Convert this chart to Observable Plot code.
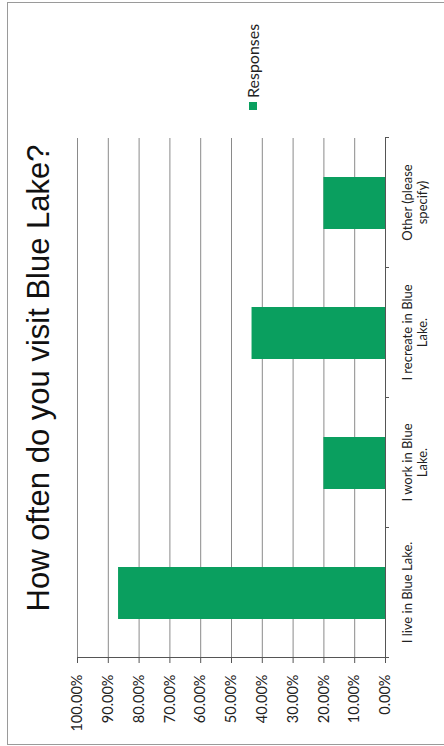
<!DOCTYPE html>
<html><head><meta charset="utf-8">
<script src="https://cdn.jsdelivr.net/npm/d3@7"></script>
<script src="https://cdn.jsdelivr.net/npm/@observablehq/plot@0.6"></script>
<style>
html,body{margin:0;padding:0;background:#fff;width:444px;height:746px;overflow:hidden;}
#page{position:absolute;left:0;top:746px;width:746px;height:444px;transform-origin:0 0;transform:rotate(-90deg);background:#fff;}
#frame{position:absolute;left:1px;top:7px;width:743px;height:440px;border:1px solid #9a9a9a;border-bottom:none;box-sizing:border-box;}
#title{position:absolute;left:0;top:23px;width:736px;text-align:center;font-family:"Liberation Sans",Arial,sans-serif;font-size:31px;line-height:31px;color:#111;white-space:nowrap;}
#chart{position:absolute;left:0;top:0;}
#legend{position:absolute;left:636px;top:243px;display:flex;align-items:center;font-family:Lato,sans-serif;font-size:16px;line-height:20px;color:#222;}
#legend .sw{width:8px;height:8px;background:#0a9f5f;margin-right:4px;}
</style></head>
<body><div id="page"><div id="frame"></div><div id="chart"></div><div id="title"></div><div id="legend"></div></div>
<script>
const chartTitle = "How often do you visit Blue Lake?";
const seriesName = "Responses";
const categories = ["I live in Blue Lake.", "I work in Blue\nLake.", "I recreate in Blue\nLake.", "Other (please\nspecify)"];
const values = [0.8667, 0.2000, 0.4333, 0.2000];
const valueTicks = [0, 0.1, 0.2, 0.3, 0.4, 0.5, 0.6, 0.7, 0.8, 0.9, 1.0];

const green = "#0a9f5f";
const data = categories.map((c, i) => ({i, category: c, value: values[i]}));
const bounds = d3.range(categories.length + 1);

const chart = Plot.plot({
  width: 746, height: 444,
  marginLeft: 88, marginRight: 138, marginTop: 77, marginBottom: 59,
  style: {fontFamily: "Lato, sans-serif", background: "transparent", color: "#222"},
  x: {type: "linear", domain: [0, categories.length], axis: null},
  y: {domain: [0, 1], axis: null},
  marks: [
    Plot.gridY(valueTicks.slice(1), {stroke: "#8a8a8a", strokeOpacity: 1}),
    Plot.rectY(data, {x1: d => d.i + 0.3, x2: d => d.i + 0.7, y1: 0, y2: "value", fill: green}),
    Plot.ruleY([0], {stroke: "#555"}),
    Plot.ruleX([0], {stroke: "#555"}),
    Plot.axisY({ticks: valueTicks, tickFormat: d3.format(".2%"), tickSize: 5, tickPadding: 12, fontSize: 14.5, label: null, stroke: "#555", fill: "#222"}),
    Plot.axisX({ticks: bounds, tickSize: 4, tickFormat: () => "", label: null, stroke: "#555"}),
    Plot.text(data, {x: d => d.i + 0.5, text: "category", frameAnchor: "bottom", lineAnchor: "top", dy: 16, fontSize: 13, lineHeight: 1.15, fill: "#222"})
  ]
});
document.getElementById("chart").append(chart);
document.getElementById("title").textContent = chartTitle;
const lg = document.getElementById("legend");
const sw = document.createElement("span"); sw.className = "sw";
const lt = document.createElement("span"); lt.textContent = seriesName;
lg.append(sw, lt);
</script>
</body></html>
